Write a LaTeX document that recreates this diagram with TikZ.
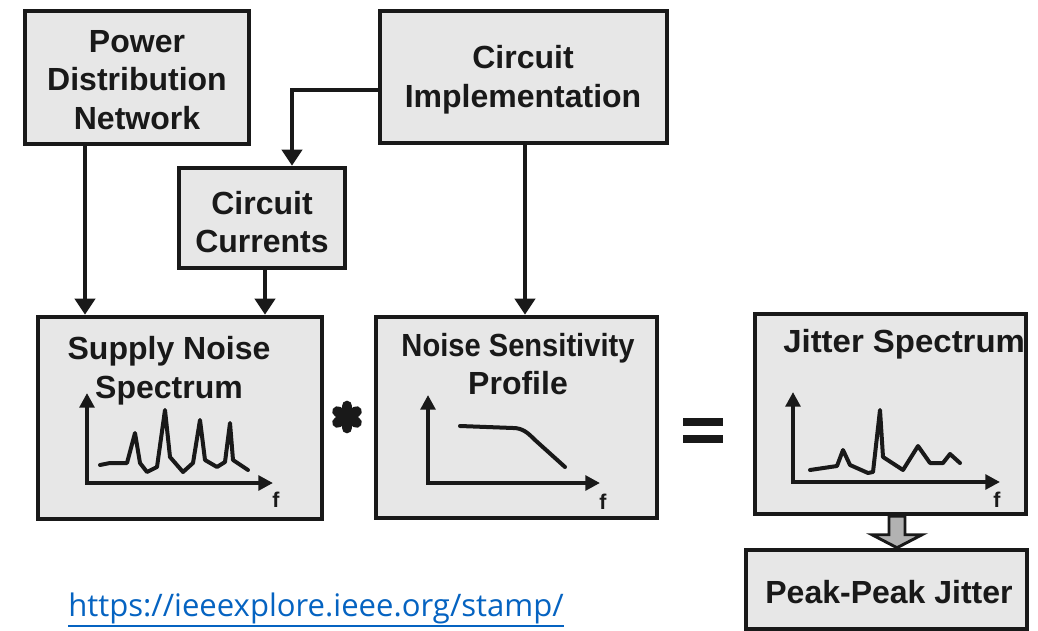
\documentclass[tikz,border=0pt]{standalone}
\usepackage{graphicx}
\usepackage{fontspec}
\setmainfont{Liberation Sans}
\newfontfamily\urlfont{Open Sans}
\usetikzlibrary{arrows.meta,calc}
\definecolor{boxfill}{RGB}{231,231,231}
\definecolor{ink}{RGB}{25,25,25}
\definecolor{linkblue}{RGB}{5,99,193}
\begin{document}
\begin{tikzpicture}[x=0.75pt,y=-0.75pt,
  box/.style={draw=ink,fill=boxfill,line width=3.4pt,inner sep=0pt},
  lbl/.style={font=\bfseries\fontsize{24}{29}\selectfont,align=center,text=ink,inner sep=0pt},
  conn/.style={draw=ink,line width=2.8pt,-{Triangle[length=12pt,width=15pt]}},
  axis/.style={draw=ink,line width=2.8pt,{Triangle[length=11pt,width=11pt]}-{Triangle[length=11pt,width=11pt]}},
  curve/.style={draw=ink,line width=3pt,line join=round,line cap=round},
  flabel/.style={font=\bfseries\fontsize{16}{18}\selectfont,text=ink,inner sep=0pt}
]
\useasboundingbox (0,0) rectangle (1038,631);

% boxes
\node[box,minimum width=168pt,minimum height=99.75pt] (pdn) at (137,77.5) {};
\node[box,minimum width=215.25pt,minimum height=99pt] (ci) at (523.5,77) {};
\node[box,minimum width=124.5pt,minimum height=75pt] (cc) at (262,218) {};
\node[box,minimum width=213pt,minimum height=151.5pt] (sns) at (180,418) {};
\node[box,minimum width=210.75pt,minimum height=150.75pt] (nsp) at (516.5,417.5) {};
\node[box,minimum width=203.25pt,minimum height=150pt] (js) at (890.5,414) {};
\node[box,minimum width=210.75pt,minimum height=59.25pt] (ppj) at (886.5,589.5) {};

% labels
\node[lbl] (tpdn) at (137,80) {Power\\Distribution\\Network};
\node[lbl] (tci) at (523,80) {Circuit\\Implementation};
\node[lbl] (tcc) at (262,222) {Circuit\\Currents};
\node[lbl] (tsns) at (169,371) {Supply Noise\\Spectrum};
\node[lbl] (tnsp) at (518,364) {\scalebox{0.91}[1]{Noise Sensitivity}\\Profile};
\node[lbl,anchor=west] (tjs) at (783,344) {\scalebox{1.03}[1]{Jitter Spectrum}};
\node[lbl] (tppj) at (889,592) {Peak-Peak Jitter};

% connectors
\draw[conn] (pdn.south -| 85,0) -- (sns.north -| 85,0);
\draw[conn] (cc.south -| 265,0) -- (sns.north -| 265,0);
\draw[conn] (ci.south -| 525,0) -- (nsp.north -| 525,0);
\draw[conn] (ci.west |- 0,90) -| (cc.north -| 292,0);

% block arrow from jitter spectrum to peak-peak jitter
\coordinate (ba) at (js.south -| 897,0);
\coordinate (bb) at (ppj.north -| 897,0);
\draw[draw=ink,fill=gray!60,line width=2.2pt,line join=miter]
  ($(ba)+(-8,0)$) -- ($(ba)+(8,0)$) -- ($(bb)+(8,-13)$) -- ($(bb)+(25,-13)$) -- (bb)
  -- ($(bb)+(-25,-13)$) -- ($(bb)+(-8,-13)$) -- cycle;

% supply noise spectrum graph
\draw[axis] (87,393) -- (87,483) -- (273,483);
\draw[curve] (100,465) -- (110,463) -- (127,463) -- (135,433) -- (140,463) -- (147,472) -- (157,467)
  -- (165,410) -- (170,457) -- (183,472) -- (193,463) -- (200,420) -- (205,460) -- (217,467)
  -- (225,462) -- (230,423) -- (233,460) -- (248,470);
\node[flabel] (f1) at (276,500) {f};

% noise sensitivity profile graph
\draw[axis] (428,395) -- (428,483) -- (600,483);
\draw[curve] (460,426) -- (513,428) to[out=0,in=135] (535,440) -- (565,467);
\node[flabel] (f2) at (603,502) {f};

% jitter spectrum graph
\draw[axis] (793,392) -- (793,482) -- (1000,482);
\draw[curve] (810,470) -- (837,466) -- (843,450) -- (850,465) -- (868,473) -- (873,472) -- (880,410)
  -- (883,457) -- (903,470) -- (918,446) -- (930,463) -- (943,463) -- (950,454) -- (960,463);
\node[flabel] (f3) at (997,500) {f};

% operators
\foreach \a in {90,30,150}
  \draw[ink,line width=8pt,line cap=round] (347,417) ++(\a:-11) -- ++(\a:22);
\fill[ink] (683,418) rectangle (723,426);
\fill[ink] (683,435) rectangle (723,443);

% link
\node[anchor=base west,inner sep=0pt,text=linkblue,font=\urlfont\fontsize{23.3}{28}\selectfont] (url) at (68,616)
  {\vtop{\hbox{https://ieeexplore.ieee.org/stamp/}\kern1pt\hrule height 1.5pt}};
\end{tikzpicture}
\end{document}
